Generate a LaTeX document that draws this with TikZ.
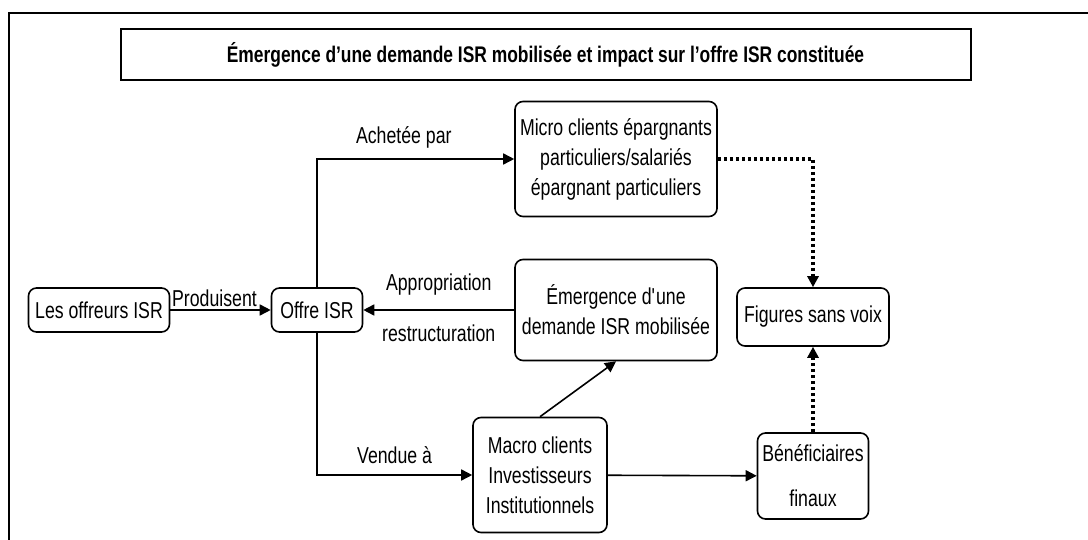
\documentclass[tikz,border=0pt]{standalone}
\usepackage{fontspec}
\setmainfont{Liberation Sans}[FakeStretch=0.77]
\usetikzlibrary{positioning, arrows.meta}

\begin{document}
\begin{tikzpicture}[
        x=0.5pt, y=-0.5pt,
        box/.style={rectangle, draw, rounded corners=4pt, line width=0.8pt, align=center, inner sep=1pt,
            font=\fontsize{11.5}{15}\selectfont},
        titlebox/.style={rectangle, draw, line width=1pt, minimum width=425pt, minimum height=25.5pt,
            font=\bfseries\fontsize{11.3}{13}\selectfont},
        lbl/.style={font=\fontsize{11.5}{13}\selectfont, inner sep=1pt},
        arrow/.style={-{Triangle[length=5.5pt, width=5.5pt]}, line width=0.8pt},
        dotarrow/.style={arrow, line width=1.6pt, dash pattern=on 1.6pt off 1.4pt}
    ]
        \useasboundingbox (0,0) rectangle (1088,540);
        % frame
        \draw[line width=1pt] (9,540) -- (9,13) -- (1088,13);

        % title
        \node[titlebox] (title) at (545.5,55) {Émergence d’une demande ISR mobilisée et impact sur l’offre ISR constituée};

        % boxes
        \node[box, minimum width=70.5pt, minimum height=22pt] (offreurs) at (99,310) {Les offreurs ISR};
        \node[box, minimum width=45.5pt, minimum height=22pt] (offre) at (317,310) {Offre ISR};
        \node[box, minimum width=101pt, minimum height=57.5pt] (micro) at (616,159)
            {Micro clients épargnants\\particuliers/salariés\\épargnant particuliers};
        \node[box, minimum width=101pt, minimum height=50.5pt] (emergence) at (616,310)
            {Émergence d\textquotesingle une\\demande ISR mobilisée};
        \node[box, minimum width=76pt, minimum height=29pt] (figures) at (813,317) {Figures sans voix};
        \node[box, minimum width=67pt, minimum height=57.5pt] (macro) at (540,475)
            {Macro clients\\Investisseurs\\Institutionnels};
        \node[box, minimum width=55.5pt, minimum height=43pt] (benef) at (813,476)
            {Bénéficiaires\\[7.5pt]finaux};

        % arrows
        \draw[arrow] (offreurs) -- node[lbl, above=0pt, xshift=-3pt] {Produisent} (offre);
        \draw[arrow] (offre.north) |- node[lbl, pos=0.72, above=4pt] {Achetée par} (micro.west);
        \draw[arrow] (offre.south) |- node[lbl, pos=0.75, above=4pt] {Vendue à} (macro.west);
        \draw[arrow] (emergence.west) -- node[lbl, above=6pt] {Appropriation}
            node[lbl, below=6pt] {restructuration} (offre.east);
        \draw[arrow] (macro.north) -- (emergence.south);
        \draw[arrow] (macro) -- (benef);

        % dotted links
        \draw[dotarrow] (micro.east) -| (figures.north);
        \draw[dotarrow] (benef.north) -- (figures.south);
    \end{tikzpicture}
\end{document}
